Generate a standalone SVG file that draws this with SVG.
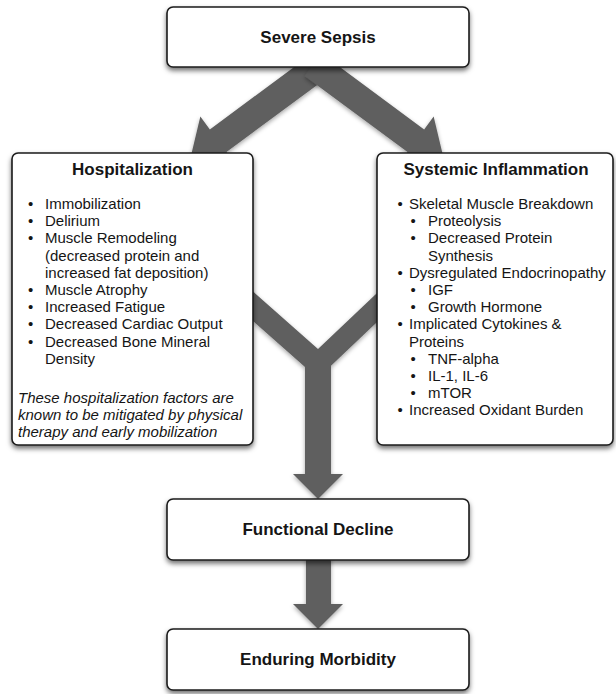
<svg xmlns="http://www.w3.org/2000/svg" width="616" height="694" viewBox="0 0 616 694">
<defs>
<filter id="sh" x="-10%" y="-10%" width="120%" height="130%">
<feDropShadow dx="0" dy="3" stdDeviation="2.5" flood-color="#000" flood-opacity="0.55"/>
</filter>
<filter id="ash" x="-10%" y="-10%" width="120%" height="120%">
<feDropShadow dx="0" dy="2" stdDeviation="2" flood-color="#000" flood-opacity="0.35"/>
</filter>
</defs>
<style>
.box{fill:#fff;stroke:#1a1a1a;stroke-width:1.6;filter:url(#sh)}
.arrow{fill:#5f5f5f;filter:url(#ash)}
text{font-family:"Liberation Sans",Arial,sans-serif;fill:#151515}
.title{font-size:17px;font-weight:bold;text-anchor:middle}
.body{font-size:15px}
.it{font-size:15px;font-style:italic}
</style>
<g id="connectors">
<polygon class="arrow" points="312.76,53.36 209.85,129.39 200.35,116.53 189.55,161.8 235.99,164.77 226.49,151.91 329.4,75.88"/>
<polygon class="arrow" points="321.24,53.36 424.15,129.39 433.65,116.53 444.45,161.8 398.01,164.77 407.51,151.91 304.6,75.88"/>
<polygon class="arrow" points="240,280 318,349 390,280.7 390,309.7 331,365.7 331,474 343,474 318,499 293,474 305,474 305,367 240,309.5"/>
<polygon class="arrow" points="306,555 331,555 331,604 343,604 318,629 293,604 306,604"/>
</g>
<g id="severe-sepsis">
<rect class="box" x="167" y="7" width="302" height="60" rx="6"/>
<text class="title" x="318" y="43">Severe Sepsis</text>
</g>
<g id="hospitalization">
<rect class="box" x="12" y="153" width="241" height="292" rx="6"/>
<text class="title" x="132.5" y="175">Hospitalization</text>
<g class="body">
<text x="28" y="209">•</text><text x="45" y="209">Immobilization</text>
<text x="28" y="226.2">•</text><text x="45" y="226.2">Delirium</text>
<text x="28" y="243.4">•</text><text x="45" y="243.4">Muscle Remodeling</text>
<text x="45" y="260.6">(decreased protein and</text>
<text x="45" y="277.8">increased fat deposition)</text>
<text x="28" y="295">•</text><text x="45" y="295">Muscle Atrophy</text>
<text x="28" y="312.2">•</text><text x="45" y="312.2">Increased Fatigue</text>
<text x="28" y="329.4">•</text><text x="45" y="329.4">Decreased Cardiac Output</text>
<text x="28" y="346.6">•</text><text x="45" y="346.6">Decreased Bone Mineral</text>
<text x="45" y="363.8">Density</text>
</g>
<text class="it" x="18" y="403">These hospitalization factors are</text>
<text class="it" x="18" y="420">known to be mitigated by physical</text>
<text class="it" x="18" y="437">therapy and early mobilization</text>
</g>
<g id="systemic-inflammation">
<rect class="box" x="377" y="153" width="236" height="292" rx="6"/>
<text class="title" x="496" y="175">Systemic Inflammation</text>
<g class="body">
<text x="397.5" y="209">•</text><text x="409" y="209">Skeletal Muscle Breakdown</text>
<text x="410.5" y="226.2">•</text><text x="428" y="226.2">Proteolysis</text>
<text x="410.5" y="243.4">•</text><text x="428" y="243.4">Decreased Protein</text>
<text x="428" y="260.6">Synthesis</text>
<text x="397.5" y="277.8">•</text><text x="409" y="277.8">Dysregulated Endocrinopathy</text>
<text x="410.5" y="295">•</text><text x="428" y="295">IGF</text>
<text x="410.5" y="312.2">•</text><text x="428" y="312.2">Growth Hormone</text>
<text x="397.5" y="329.4">•</text><text x="409" y="329.4">Implicated Cytokines &amp;</text>
<text x="409" y="346.6">Proteins</text>
<text x="410.5" y="363.8">•</text><text x="428" y="363.8">TNF-alpha</text>
<text x="410.5" y="381">•</text><text x="428" y="381">IL-1, IL-6</text>
<text x="410.5" y="398.2">•</text><text x="428" y="398.2">mTOR</text>
<text x="397.5" y="415.4">•</text><text x="409" y="415.4">Increased Oxidant Burden</text>
</g>
</g>
<g id="functional-decline">
<rect class="box" x="167" y="499" width="302" height="61" rx="6"/>
<text class="title" x="318" y="535">Functional Decline</text>
</g>
<g id="enduring-morbidity">
<rect class="box" x="167" y="629" width="302" height="61" rx="6"/>
<text class="title" x="318" y="665">Enduring Morbidity</text>
</g>
</svg>
